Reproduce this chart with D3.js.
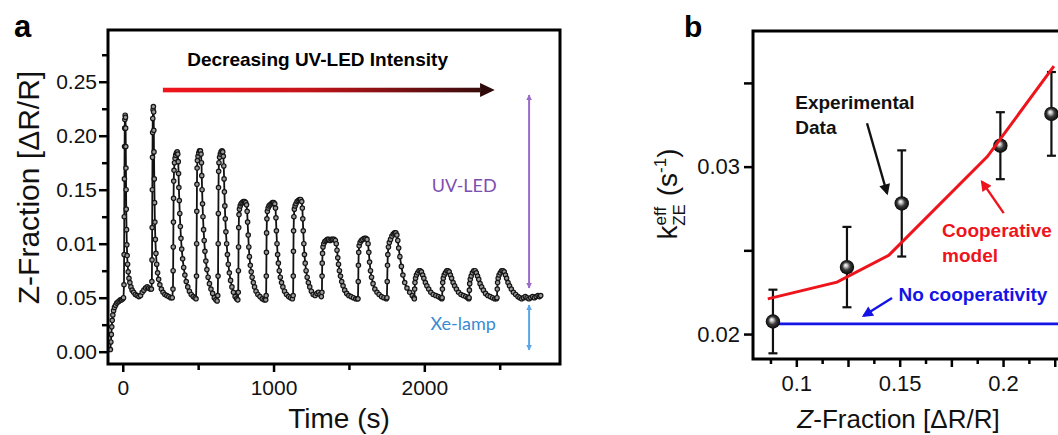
<!DOCTYPE html>
<html>
<head>
<meta charset="utf-8">
<script src="https://cdn.jsdelivr.net/npm/d3@7"></script>
<style>
    body { margin: 0; background: #fff; }
    svg { display: block; font-family: "Liberation Sans", Arial, sans-serif; }
    .axis .domain { display: none; }
    .axis line { stroke: #000; stroke-width: 2.5; }
    .axis text { font-size: 21px; fill: #111; font-family: "Liberation Sans", Arial, sans-serif; }
</style>
</head>
<body>
<svg id="chart" width="1058" height="435"></svg>
<script>
// ---- Panel a: Z-fraction trace, [time (s), Z-fraction] ----
var xeOnly = [[-82,0.002],[-79,0.009],[-76,0.016],[-73,0.023],[-70,0.029],[-66,0.034],[-61,0.038],[-55,0.041],
    [-48,0.043],[-40,0.045],[-32,0.046],[-24,0.047],[-16,0.048],[-8,0.048],[0,0.049],[5,0.050]];
var pulse01 = [[8,0.062],[9,0.09],[10,0.125],[11,0.16],[12,0.19],[13,0.207],[14,0.215],[16,0.219],[18,0.217],
    [19,0.207],[20,0.19],[21,0.17],[22,0.15],[23,0.132],[25,0.113],[27,0.099],[29,0.089],[32,0.081],[36,0.074],
    [41,0.068],[47,0.064],[54,0.060],[62,0.057],[72,0.055],[83,0.053],[95,0.052],[107,0.051],[118,0.052],
    [129,0.055],[140,0.057],[151,0.059],[162,0.06],[172,0.059],[182,0.058],[190,0.058]];
var pulse02 = [[193,0.065],[194,0.085],[195,0.115],[196,0.15],[197,0.18],[198,0.203],[199,0.216],[201,0.224],
    [203,0.227],[205,0.222],[206,0.205],[207,0.185],[209,0.16],[211,0.138],[213,0.12],[216,0.104],[220,0.091],
    [225,0.081],[231,0.073],[238,0.067],[246,0.062],[256,0.058],[267,0.055],[279,0.053],[292,0.052],[305,0.051],
    [318,0.05],[328,0.05]];
var pulse03 = [[333,0.058],[334,0.075],[335,0.097],[336,0.12],[337,0.142],[338,0.158],[340,0.168],[343,0.175],
    [347,0.179],[351,0.182],[356,0.184],[361,0.185],[365,0.183],[368,0.176],[370,0.165],[372,0.152],[375,0.14],
    [378,0.128],[382,0.116],[386,0.105],[391,0.095],[397,0.086],[404,0.078],[412,0.071],[421,0.065],[431,0.06],
    [442,0.056],[454,0.053],[467,0.051],[479,0.05],[486,0.049]];
var pulse04 = [[489,0.07],[490,0.1],[491,0.13],[492,0.155],[493,0.17],[495,0.177],[499,0.181],[504,0.184],
    [509,0.186],[515,0.186],[519,0.183],[522,0.175],[524,0.163],[526,0.15],[529,0.137],[532,0.125],[536,0.113],
    [540,0.103],[545,0.093],[551,0.084],[558,0.076],[566,0.069],[575,0.063],[585,0.058],[596,0.054],[607,0.05],
    [617,0.048],[626,0.047]];
var pulse05 = [[630,0.052],[632,0.07],[633,0.1],[634,0.128],[635,0.152],[636,0.167],[638,0.175],[642,0.18],
    [647,0.183],[652,0.185],[658,0.186],[663,0.185],[667,0.181],[670,0.172],[672,0.16],[674,0.148],[677,0.135],
    [680,0.123],[684,0.111],[689,0.1],[694,0.09],[700,0.081],[707,0.073],[715,0.066],[724,0.06],[734,0.055],
    [745,0.051],[755,0.049],[763,0.048]];
var pulse06 = [[766,0.055],[767,0.075],[768,0.097],[769,0.115],[771,0.127],[774,0.132],[779,0.135],[785,0.137],
    [792,0.138],[800,0.139],[808,0.139],[815,0.138],[821,0.136],[825,0.13],[828,0.12],[832,0.108],[836,0.097],
    [840,0.088],[846,0.08],[852,0.074],[858,0.069],[866,0.064],[874,0.06],[884,0.056],[896,0.053],[910,0.051],
    [925,0.049],[938,0.048],[948,0.048]];
var pulse07 = [[951,0.052],[952,0.07],[953,0.092],[954,0.11],[956,0.123],[959,0.13],[964,0.133],[970,0.135],
    [977,0.136],[985,0.137],[993,0.138],[1001,0.138],[1008,0.137],[1013,0.133],[1016,0.124],[1019,0.112],
    [1023,0.1],[1027,0.09],[1032,0.082],[1038,0.075],[1045,0.069],[1053,0.064],[1062,0.06],[1073,0.056],
    [1086,0.053],[1100,0.051],[1113,0.05],[1125,0.049]];
var pulse08 = [[1130,0.052],[1131,0.07],[1132,0.093],[1133,0.112],[1135,0.125],[1138,0.132],[1143,0.135],
    [1149,0.137],[1156,0.139],[1164,0.14],[1172,0.141],[1180,0.141],[1187,0.139],[1191,0.133],[1194,0.123],
    [1197,0.112],[1201,0.1],[1205,0.09],[1210,0.082],[1216,0.075],[1223,0.069],[1231,0.064],[1240,0.06],
    [1251,0.056],[1263,0.053],[1276,0.052],[1288,0.054],[1298,0.055],[1308,0.053],[1317,0.051]];
var pulse09 = [[1321,0.055],[1322,0.07],[1323,0.082],[1325,0.091],[1328,0.097],[1333,0.1],[1340,0.102],
    [1348,0.103],[1357,0.104],[1366,0.104],[1375,0.103],[1384,0.104],[1393,0.104],[1402,0.104],[1410,0.103],
    [1416,0.1],[1421,0.094],[1426,0.087],[1431,0.081],[1437,0.075],[1444,0.07],[1452,0.065],[1461,0.061],
    [1472,0.057],[1485,0.054],[1499,0.052],[1514,0.051],[1530,0.05],[1545,0.049],[1556,0.049]];
var pulse10 = [[1560,0.049],[1562,0.065],[1563,0.08],[1565,0.092],[1568,0.098],[1574,0.101],[1582,0.103],
    [1592,0.104],[1602,0.105],[1612,0.105],[1620,0.104],[1627,0.1],[1632,0.092],[1637,0.083],[1643,0.075],
    [1650,0.069],[1660,0.063],[1672,0.058],[1686,0.055],[1700,0.053],[1716,0.051],[1732,0.05],[1748,0.049]];
var pulse11 = [[1752,0.05],[1754,0.065],[1756,0.08],[1758,0.09],[1762,0.097],[1768,0.101],[1776,0.104],
    [1785,0.107],[1794,0.109],[1803,0.11],[1811,0.11],[1818,0.108],[1824,0.103],[1830,0.096],[1838,0.088],
    [1848,0.079],[1858,0.071],[1870,0.064],[1885,0.059],[1903,0.055],[1920,0.052],[1932,0.05]];
var pulse12 = [[1934,0.049],[1936,0.058],[1938,0.064],[1942,0.068],[1948,0.071],[1956,0.073],[1965,0.075],
    [1973,0.075],[1981,0.074],[1989,0.071],[1997,0.068],[2007,0.064],[2017,0.061],[2029,0.058],[2043,0.055],
    [2059,0.053],[2076,0.052],[2093,0.051],[2107,0.05],[2116,0.049]];
var pulse13 = [[2118,0.05],[2120,0.058],[2122,0.064],[2126,0.068],[2132,0.071],[2140,0.073],[2149,0.075],
    [2157,0.075],[2165,0.074],[2173,0.071],[2181,0.068],[2191,0.064],[2201,0.061],[2213,0.058],[2227,0.055],
    [2243,0.053],[2259,0.052],[2275,0.051],[2288,0.05],[2295,0.049]];
var pulse14 = [[2297,0.05],[2299,0.057],[2301,0.063],[2305,0.067],[2311,0.07],[2319,0.073],[2328,0.075],
    [2337,0.075],[2345,0.073],[2353,0.07],[2361,0.067],[2370,0.063],[2380,0.06],[2392,0.057],[2406,0.054],
    [2421,0.052],[2437,0.051],[2453,0.05],[2467,0.049],[2478,0.049]];
var pulse15 = [[2482,0.05],[2484,0.058],[2486,0.064],[2490,0.068],[2496,0.071],[2504,0.073],[2513,0.075],
    [2522,0.075],[2530,0.074],[2538,0.071],[2546,0.068],[2555,0.064],[2565,0.061],[2577,0.058],[2591,0.055],
    [2606,0.053],[2621,0.051],[2634,0.05]];
var tail = [[2646,0.049],[2658,0.05],[2670,0.051],[2682,0.05],[2694,0.049],[2706,0.05],[2718,0.051],
    [2730,0.05],[2742,0.051],[2754,0.052],[2764,0.051],[2772,0.052]];

var timeMajorTicks = [0, 1000, 2000];
var timeMinorTicks = [500, 1500, 2500];
var zMajorTicks = [0, 0.05, 0.10, 0.15, 0.20, 0.25];
var zTickLabels = ["0.00", "0.05", "0.01", "0.15", "0.20", "0.25"];
var zMinorTicks = [0.025, 0.075, 0.125, 0.175, 0.225, 0.275];

// ---- Panel b: effective rate vs Z-fraction ----
var expZ = [0.0887, 0.1245, 0.151, 0.1987, 0.2234];
var expK = [0.02075, 0.0240, 0.0278, 0.03125, 0.03315];
var expErr = [0.0019, 0.0024, 0.00317, 0.0020, 0.0025];
var modelZ = [0.0862, 0.1197, 0.1447, 0.1924, 0.2246];
var modelK = [0.0221, 0.0231, 0.0247, 0.0306, 0.0360];
var noCoopZ = [0.0887, 0.24];
var noCoopK = [0.02061, 0.02061];
var fracMajorTicks = [0.1, 0.125, 0.15, 0.175, 0.2, 0.225];
var fracMinorTicks = [0.0875, 0.1125, 0.1375, 0.1625, 0.1875, 0.2125];
var fracLabels = {"0.1": "0.1", "0.15": "0.15", "0.2": "0.2"};
var kMajorTicks = [0.02, 0.03];
var kMinorTicks = [0.025, 0.035];

var svg = d3.select("#chart");
var defs = svg.append("defs");

// ================= Panel a =================
var aLeft = 108, aRight = 560, aTop = 30, aBottom = 364;
var xA = d3.scaleLinear().domain([-98, 2900]).range([aLeft, aRight]);
var yA = d3.scaleLinear().domain([-0.0114, 0.2979]).range([aBottom, aTop]);

var panelA = svg.append("g");

// Ticks
panelA.append("g").attr("class", "axis")
    .attr("transform", "translate(" + aLeft + ",0)")
    .call(d3.axisLeft(yA).tickValues(zMajorTicks).tickSize(9).tickPadding(2)
        .tickFormat(function (d, i) { return zTickLabels[i]; }));
panelA.append("g").attr("class", "axis")
    .attr("transform", "translate(" + aLeft + ",0)")
    .call(d3.axisLeft(yA).tickValues(zMinorTicks).tickSize(6).tickFormat(""));
panelA.append("g").attr("class", "axis")
    .attr("transform", "translate(0," + aBottom + ")")
    .call(d3.axisBottom(xA).tickValues(timeMajorTicks).tickSize(8).tickPadding(8)
        .tickFormat(d3.format("d")));
panelA.append("g").attr("class", "axis")
    .attr("transform", "translate(0," + aBottom + ")")
    .call(d3.axisBottom(xA).tickValues(timeMinorTicks).tickSize(6).tickFormat(""));

// Trace
var zTrace = [].concat(xeOnly, pulse01, pulse02, pulse03, pulse04, pulse05, pulse06, pulse07, pulse08,
    pulse09, pulse10, pulse11, pulse12, pulse13, pulse14, pulse15, tail);
var traceLine = d3.line()
    .x(function (d) { return xA(d[0]); })
    .y(function (d) { return yA(d[1]); });
panelA.append("path")
    .datum(zTrace)
    .attr("d", traceLine)
    .attr("fill", "none")
    .attr("stroke", "#111")
    .attr("stroke-width", 1.8);
panelA.selectAll("circle.trace")
    .data(zTrace)
    .enter()
    .append("circle")
    .attr("class", "trace")
    .attr("cx", function (d) { return xA(d[0]); })
    .attr("cy", function (d) { return yA(d[1]); })
    .attr("r", 2.2)
    .attr("fill", "#9a9a9a")
    .attr("stroke", "#151515")
    .attr("stroke-width", 1.2);

// Decreasing intensity arrow with red-to-dark gradient
var grad = defs.append("linearGradient").attr("id", "intensityGrad")
    .attr("x1", "0%").attr("x2", "100%").attr("y1", "0%").attr("y2", "0%");
grad.append("stop").attr("offset", "0%").attr("stop-color", "#f0151c");
grad.append("stop").attr("offset", "45%").attr("stop-color", "#c4141a");
grad.append("stop").attr("offset", "100%").attr("stop-color", "#3a0c0c");
var arrowY = yA(0.2423);
panelA.append("rect")
    .attr("x", xA(266)).attr("y", arrowY - 2.3)
    .attr("width", xA(2370) - xA(266)).attr("height", 4.6)
    .attr("fill", "url(#intensityGrad)");
panelA.append("path")
    .attr("d", "M" + xA(2370) + "," + (arrowY - 7) + "L" + xA(2467) + "," + arrowY +
        "L" + xA(2370) + "," + (arrowY + 7) + "Z")
    .attr("fill", "#2e0a0a");
panelA.append("text")
    .attr("x", xA(1292)).attr("y", yA(0.2645))
    .attr("text-anchor", "middle")
    .style("font-size", "19px").style("font-weight", "bold")
    .text("Decreasing UV-LED Intensity");

// Double-headed arrows for UV-LED and Xe-lamp
function doubleArrow(id, color, t, z0, z1) {
    var m = defs.append("marker").attr("id", id)
        .attr("viewBox", "0 0 10 10").attr("refX", 9).attr("refY", 5)
        .attr("markerWidth", 6).attr("markerHeight", 6)
        .attr("markerUnits", "userSpaceOnUse")
        .attr("orient", "auto-start-reverse");
    m.append("path").attr("d", "M0,0L10,5L0,10Z").attr("fill", color);
    panelA.append("line")
        .attr("x1", xA(t)).attr("x2", xA(t))
        .attr("y1", yA(z0)).attr("y2", yA(z1))
        .attr("stroke", color).attr("stroke-width", 2)
        .attr("marker-start", "url(#" + id + ")")
        .attr("marker-end", "url(#" + id + ")");
}
doubleArrow("purpleHead", "#9a6cc8", 2695, 0.2377, 0.059);
doubleArrow("blueHead", "#5aa6e6", 2695, 0.0432, 0.0016);
panelA.append("text")
    .attr("x", xA(2265)).attr("y", yA(0.148))
    .attr("text-anchor", "middle")
    .style("font-family", "Lato, 'Open Sans', sans-serif")
    .style("font-size", "18px").attr("fill", "#7d4fb0")
    .text("UV-LED");
panelA.append("text")
    .attr("x", xA(2258)).attr("y", yA(0.020))
    .attr("text-anchor", "middle")
    .style("font-family", "Lato, 'Open Sans', sans-serif")
    .style("font-size", "18px").attr("fill", "#3a8ad2")
    .text("Xe-lamp");

// Frame
panelA.append("rect")
    .attr("x", aLeft).attr("y", aTop)
    .attr("width", aRight - aLeft).attr("height", aBottom - aTop)
    .attr("fill", "none").attr("stroke", "#000").attr("stroke-width", 3);

// Titles
panelA.append("text")
    .attr("transform", "translate(38.5,187.5) rotate(-90)")
    .attr("text-anchor", "middle")
    .style("font-size", "30px").attr("fill", "#111")
    .text("Z-Fraction [\u0394R/R]");
panelA.append("text")
    .attr("x", 339).attr("y", 428)
    .attr("text-anchor", "middle")
    .style("font-size", "28px").attr("fill", "#111")
    .text("Time (s)");
svg.append("text")
    .attr("x", 14).attr("y", 37)
    .style("font-size", "31px").style("font-weight", "bold")
    .text("a");

// ================= Panel b =================
var bLeft = 753, bRight = 1075, bTop = 31, bBottom = 359;
var xB = d3.scaleLinear().domain([0.07905, 0.2348]).range([bLeft, bRight]);
var yB = d3.scaleLinear().domain([0.01851, 0.0381]).range([bBottom, bTop]);

var panelB = svg.append("g");

panelB.append("g").attr("class", "axis")
    .attr("transform", "translate(" + bLeft + ",0)")
    .call(d3.axisLeft(yB).tickValues(kMajorTicks).tickSize(9).tickPadding(4)
        .tickFormat(d3.format(".2f")));
panelB.append("g").attr("class", "axis")
    .attr("transform", "translate(" + bLeft + ",0)")
    .call(d3.axisLeft(yB).tickValues(kMinorTicks).tickSize(9).tickFormat(""));
panelB.append("g").attr("class", "axis")
    .attr("transform", "translate(0," + bBottom + ")")
    .call(d3.axisBottom(xB).tickValues(fracMajorTicks).tickSize(8).tickPadding(8)
        .tickFormat(function (d) { return fracLabels[String(d)] || ""; }));
panelB.append("g").attr("class", "axis")
    .attr("transform", "translate(0," + bBottom + ")")
    .call(d3.axisBottom(xB).tickValues(fracMinorTicks).tickSize(5).tickFormat(""));
panelB.selectAll(".axis text").style("font-size", "22px");

// No cooperativity line
panelB.append("path")
    .datum(d3.zip(noCoopZ, noCoopK))
    .attr("d", d3.line().x(function (d) { return xB(d[0]); }).y(function (d) { return yB(d[1]); }))
    .attr("stroke", "#1414e6").attr("stroke-width", 2.6).attr("fill", "none");

// Error bars
var expData = d3.zip(expZ, expK, expErr);
var bars = panelB.selectAll("g.err").data(expData).enter().append("g").attr("class", "err");
bars.append("line")
    .attr("x1", function (d) { return xB(d[0]); }).attr("x2", function (d) { return xB(d[0]); })
    .attr("y1", function (d) { return yB(d[1] - d[2]); }).attr("y2", function (d) { return yB(d[1] + d[2]); })
    .attr("stroke", "#111").attr("stroke-width", 2.2);
[-1, 1].forEach(function (s) {
    bars.append("line")
        .attr("x1", function (d) { return xB(d[0]) - 4.5; }).attr("x2", function (d) { return xB(d[0]) + 4.5; })
        .attr("y1", function (d) { return yB(d[1] + s * d[2]); }).attr("y2", function (d) { return yB(d[1] + s * d[2]); })
        .attr("stroke", "#111").attr("stroke-width", 2.2);
});

// Shiny spheres
var sphere = defs.append("radialGradient").attr("id", "sphereGrad")
    .attr("cx", "50%").attr("cy", "50%").attr("r", "50%")
    .attr("fx", "40%").attr("fy", "36%");
sphere.append("stop").attr("offset", "0%").attr("stop-color", "#ffffff");
sphere.append("stop").attr("offset", "22%").attr("stop-color", "#c8c8c8");
sphere.append("stop").attr("offset", "55%").attr("stop-color", "#3a3a3a");
sphere.append("stop").attr("offset", "100%").attr("stop-color", "#050505");
bars.append("circle")
    .attr("cx", function (d) { return xB(d[0]); })
    .attr("cy", function (d) { return yB(d[1]); })
    .attr("r", 7.2)
    .attr("fill", "url(#sphereGrad)");

// Cooperative model line
panelB.append("path")
    .datum(d3.zip(modelZ, modelK))
    .attr("d", d3.line().x(function (d) { return xB(d[0]); }).y(function (d) { return yB(d[1]); }))
    .attr("stroke", "#ee141c").attr("stroke-width", 3).attr("fill", "none");

// Annotation arrows
function headMarker(id, color) {
    var m = defs.append("marker").attr("id", id)
        .attr("viewBox", "0 0 10 10").attr("refX", 8).attr("refY", 5)
        .attr("markerWidth", 13).attr("markerHeight", 11)
        .attr("markerUnits", "userSpaceOnUse")
        .attr("orient", "auto");
    m.append("path").attr("d", "M0,0L10,5L0,10Z").attr("fill", color);
}
headMarker("blackHead", "#111");
headMarker("redHead", "#ee141c");
headMarker("blueHeadB", "#1414e6");
function annotArrow(z0, k0, z1, k1, color, marker) {
    panelB.append("line")
        .attr("x1", xB(z0)).attr("y1", yB(k0))
        .attr("x2", xB(z1)).attr("y2", yB(k1))
        .attr("stroke", color).attr("stroke-width", 2.4)
        .attr("marker-end", "url(#" + marker + ")");
}
annotArrow(0.1342, 0.03259, 0.1439, 0.02841, "#111", "blackHead");
annotArrow(0.2003, 0.02722, 0.1898, 0.0291, "#ee141c", "redHead");
annotArrow(0.1463, 0.02215, 0.1326, 0.02109, "#1414e6", "blueHeadB");

function boldNote(z, k, color, text) {
    panelB.append("text")
        .attr("x", xB(z)).attr("y", yB(k))
        .style("font-size", "19px").style("font-weight", "bold")
        .attr("fill", color).text(text);
}
boldNote(0.0995, 0.03342, "#111", "Experimental");
boldNote(0.0995, 0.03195, "#111", "Data");
boldNote(0.1705, 0.02582, "#ee141c", "Cooperative");
boldNote(0.1705, 0.02433, "#ee141c", "model");
boldNote(0.1494, 0.02199, "#1414e6", "No cooperativity");

// Frame
panelB.append("rect")
    .attr("x", bLeft).attr("y", bTop)
    .attr("width", bRight - bLeft).attr("height", bBottom - bTop)
    .attr("fill", "none").attr("stroke", "#000").attr("stroke-width", 3);

// Titles
var kLabel = panelB.append("text")
    .attr("transform", "translate(677,194) rotate(-90)")
    .attr("text-anchor", "middle")
    .style("font-size", "28px").attr("fill", "#111");
kLabel.append("tspan").text("k");
kLabel.append("tspan").attr("dy", -11).style("font-size", "17px").text("eff");
kLabel.append("tspan").attr("dx", -18.9).attr("dy", 19).style("font-size", "17px").text("ZE");
kLabel.append("tspan").attr("dy", -8).text(" (s");
kLabel.append("tspan").attr("dy", -11).style("font-size", "17px").text("-1");
kLabel.append("tspan").attr("dy", 11).text(")");

var bTitle = panelB.append("text")
    .attr("x", 898.5).attr("y", 428)
    .attr("text-anchor", "middle")
    .style("font-size", "26px").attr("fill", "#111");
bTitle.append("tspan").style("font-style", "italic").text("Z");
bTitle.append("tspan").text("-Fraction [\u0394R/R]");

svg.append("text")
    .attr("x", 684).attr("y", 37)
    .style("font-size", "30px").style("font-weight", "bold")
    .text("b");
</script>
</body>
</html>
